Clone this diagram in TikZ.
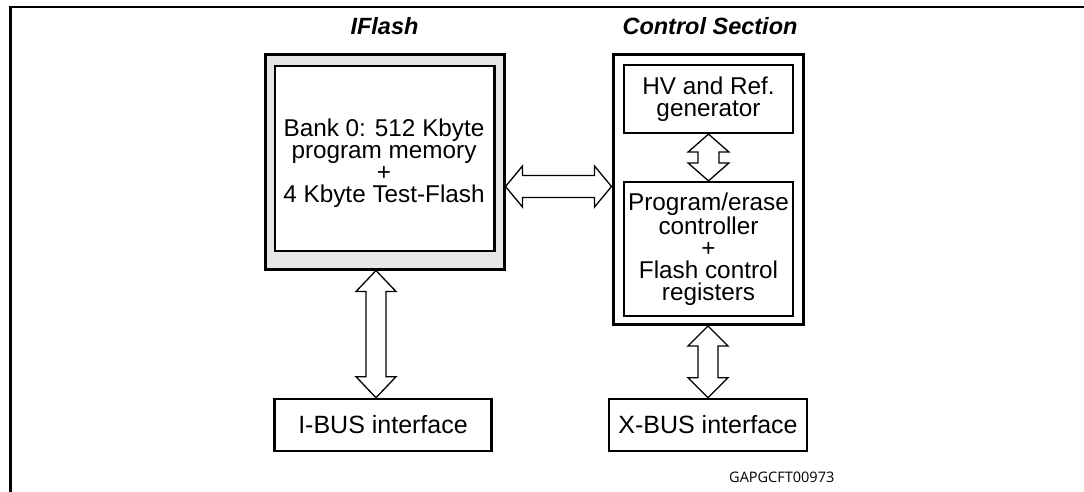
\documentclass[tikz,border=0pt]{standalone}
\usepackage{fontspec}
\setmainfont{Liberation Sans}
\newfontfamily\codefont{Open Sans}
\usetikzlibrary{calc}
\newcommand{\dbusv}[5]{%
  \draw[bus] let \p1=#1, \p2=#2 in
  (\x1,\y1) -- (\x1+#3,\y1-#5) -- (\x1+#4,\y1-#5) -- (\x1+#4,\y2+#5) -- (\x1+#3,\y2+#5)
  -- (\x1,\y2) -- (\x1-#3,\y2+#5) -- (\x1-#4,\y2+#5) -- (\x1-#4,\y1-#5) -- (\x1-#3,\y1-#5) -- cycle;}
\newcommand{\dbush}[5]{%
  \draw[bus] let \p1=#1, \p2=#2 in
  (\x1,\y1) -- (\x1+#5,\y1+#3) -- (\x1+#5,\y1+#4) -- (\x2-#5,\y1+#4) -- (\x2-#5,\y1+#3)
  -- (\x2,\y1) -- (\x2-#5,\y1-#3) -- (\x2-#5,\y1-#4) -- (\x1+#5,\y1-#4) -- (\x1+#5,\y1-#3) -- cycle;}
\begin{document}
\begin{tikzpicture}[x=1pt,y=-1pt,
  txt/.style={font=\fontsize{24.3}{22}\selectfont, align=center},
  title/.style={font=\fontsize{23.5}{21.5}\selectfont\bfseries\itshape, anchor=base},
  outerbox/.style={draw, line width=3pt, inner sep=0pt},
  innerbox/.style={draw, line width=2.2pt, fill=white, inner sep=0pt, txt},
  busbox/.style={draw, line width=2.6pt, inner sep=0pt, font=\fontsize{25}{22}\selectfont},
  bus/.style={draw, fill=white, line width=1.3pt, line join=miter}]
\useasboundingbox (0,0) rectangle (1084,492);
\fill[white] (0,0) rectangle (1084,492);
% frame
\draw[line width=2.7pt] (10.5,520) -- (10.5,7) -- (1100,7);
% titles
\node[title] (t1) at (384.5,35) {IFlash};
\node[title] (t2) at (710,35) {Control Section};
% IFlash
\node[outerbox, fill=black!10, minimum width=239pt, minimum height=214pt] (iflash) at (384.5,162) {};
\node[innerbox, minimum width=219.5pt, minimum height=185pt] (bank) at (384.75,158.5) {};
\node[txt] (banktxt) at (384,163) {Bank 0: 512 Kbyte\\program memory\\+\\4 Kbyte Test-Flash};
% Control section
\node[outerbox, minimum width=190pt, minimum height=269.5pt] (ctrl) at (708,189.75) {};
\node[innerbox, minimum width=169pt, minimum height=68pt] (hv) at (708.5,99) {HV and Ref.\\generator};
\node[innerbox, minimum width=169pt, minimum height=134pt] (pe) at (708.5,249) {Program/erase\\controller\\+\\Flash control\\registers};
% bus interfaces
\node[busbox, minimum width=217pt, minimum height=52pt] (ibus) at (383,425) {I-BUS interface};
\node[busbox, minimum width=198pt, minimum height=52pt] (xbus) at (708,425) {X-BUS interface};
% label
\node[font=\codefont\fontsize{14.5}{16}\selectfont, anchor=base west, inner sep=0pt] (code) at (729,482) {GAPGCFT00973};
% connectors
\coordinate (hy) at (0,186.5);
\coordinate (ix) at (376,0);
\dbush{(iflash.east |- hy)}{(ctrl.west |- hy)}{20.5pt}{11pt}{17pt}
\dbusv{(ix |- iflash.south)}{(ix |- ibus.north)}{20pt}{10pt}{21pt}
\dbusv{(hv.south)}{(pe.north)}{20.5pt}{10.5pt}{18pt}
\dbusv{(ctrl.south)}{(xbus.north)}{20pt}{10pt}{20pt}
\end{tikzpicture}
\end{document}
